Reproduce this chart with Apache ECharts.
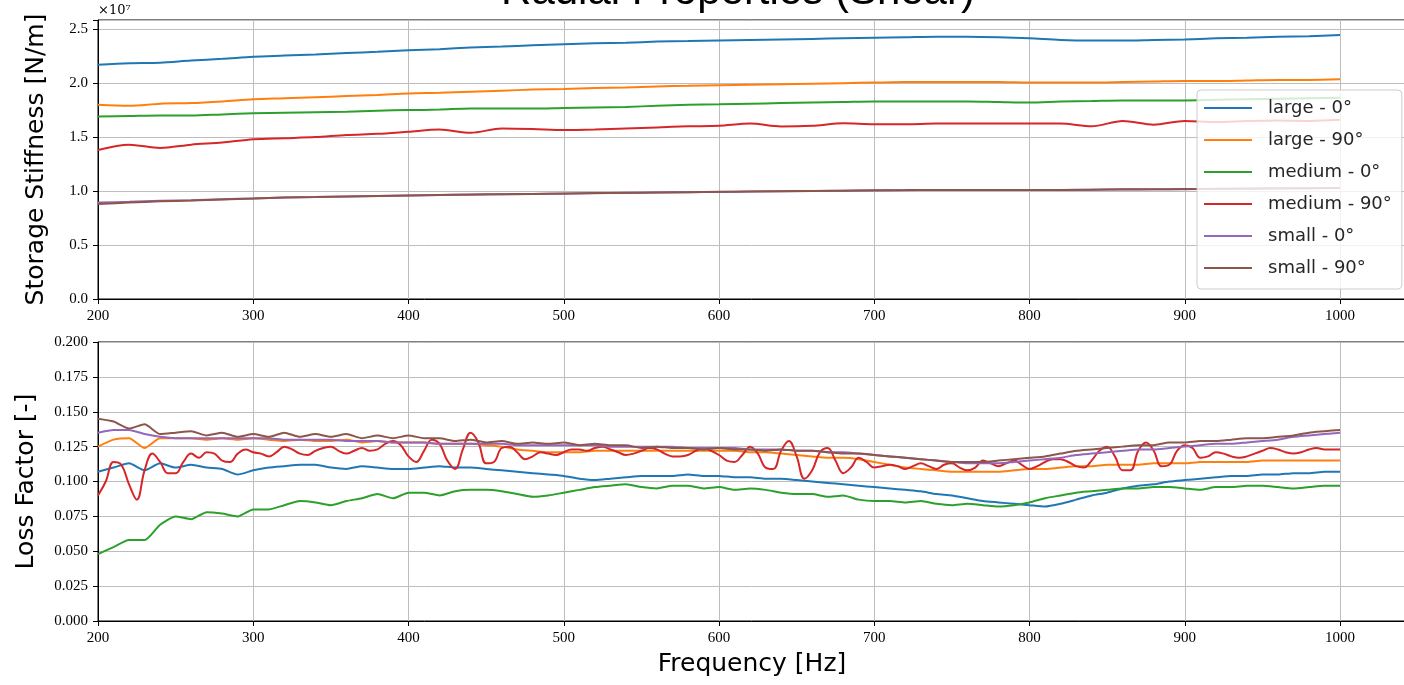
<!DOCTYPE html>
<html>
<head>
<meta charset="utf-8">
<title>Radial Properties (Shear)</title>
<script src="https://cdn.jsdelivr.net/npm/echarts@6/dist/echarts.min.js"></script>
<style>
    html, body { margin: 0; padding: 0; background: #fff; }
    #main { width: 1404px; height: 685px; }
</style>
</head>
<body>
<div id="main"></div>
<script>
// 频率采样点
const freqTop = [200, 220, 240, 260, 280, 300, 320, 340, 360, 380,
    400, 420, 440, 460, 480, 500, 520, 540, 560, 580,
    600, 620, 640, 660, 680, 700, 720, 740, 760, 780,
    800, 820, 840, 860, 880, 900, 920, 940, 960, 980, 1000];

const freqLoss = [200, 210, 220, 230, 240, 250, 260, 270, 280, 290,
    300, 310, 320, 330, 340, 350, 360, 370, 380, 390,
    400, 410, 420, 430, 440, 450, 460, 470, 480, 490,
    500, 510, 520, 530, 540, 550, 560, 570, 580, 590,
    600, 610, 620, 630, 640, 650, 660, 670, 680, 690,
    700, 710, 720, 730, 740, 750, 760, 770, 780, 790,
    800, 810, 820, 830, 840, 850, 860, 870, 880, 890,
    900, 910, 920, 930, 940, 950, 960, 970, 980, 990, 1000];

const freqFine = [200, 205, 210, 215, 220, 225, 230, 235, 240, 245,
    250, 255, 260, 265, 270, 275, 280, 285, 290, 295,
    300, 305, 310, 315, 320, 325, 330, 335, 340, 345,
    350, 355, 360, 365, 370, 375, 380, 385, 390, 395,
    400, 405, 410, 415, 420, 425, 430, 435, 440, 445,
    450, 455, 460, 465, 470, 475, 480, 485, 490, 495,
    500, 505, 510, 515, 520, 525, 530, 535, 540, 545,
    550, 555, 560, 565, 570, 575, 580, 585, 590, 595,
    600, 605, 610, 615, 620, 625, 630, 635, 640, 645,
    650, 655, 660, 665, 670, 675, 680, 685, 690, 695,
    700, 705, 710, 715, 720, 725, 730, 735, 740, 745,
    750, 755, 760, 765, 770, 775, 780, 785, 790, 795,
    800, 805, 810, 815, 820, 825, 830, 835, 840, 845,
    850, 855, 860, 865, 870, 875, 880, 885, 890, 895,
    900, 905, 910, 915, 920, 925, 930, 935, 940, 945,
    950, 955, 960, 965, 970, 975, 980, 985, 990, 995, 1000];

// 储能刚度 (单位 1e7 N/m)
const stiffLarge0 = [2.170, 2.185, 2.190, 2.210, 2.225, 2.245, 2.255, 2.265, 2.280, 2.290,
    2.305, 2.315, 2.330, 2.340, 2.350, 2.360, 2.370, 2.375, 2.385, 2.390,
    2.395, 2.400, 2.405, 2.410, 2.415, 2.420, 2.425, 2.430, 2.430, 2.425,
    2.415, 2.400, 2.395, 2.395, 2.400, 2.405, 2.415, 2.420, 2.430, 2.435, 2.445];
const stiffLarge90 = [1.800, 1.790, 1.810, 1.815, 1.830, 1.850, 1.860, 1.870, 1.880, 1.890,
    1.905, 1.910, 1.920, 1.930, 1.940, 1.945, 1.955, 1.960, 1.970, 1.975,
    1.980, 1.985, 1.990, 1.995, 2.000, 2.005, 2.010, 2.010, 2.010, 2.010,
    2.005, 2.005, 2.005, 2.010, 2.015, 2.020, 2.020, 2.025, 2.030, 2.030, 2.035];
const stiffMedium0 = [1.690, 1.695, 1.700, 1.700, 1.710, 1.720, 1.725, 1.730, 1.735, 1.745,
    1.750, 1.755, 1.765, 1.765, 1.765, 1.770, 1.775, 1.780, 1.790, 1.800,
    1.805, 1.810, 1.815, 1.820, 1.825, 1.830, 1.830, 1.830, 1.830, 1.825,
    1.820, 1.830, 1.835, 1.840, 1.840, 1.840, 1.845, 1.850, 1.855, 1.860, 1.865];
const stiffMedium90 = [1.380, 1.430, 1.400, 1.430, 1.450, 1.480, 1.490, 1.500, 1.520, 1.530,
    1.550, 1.570, 1.540, 1.580, 1.575, 1.565, 1.570, 1.580, 1.590, 1.600,
    1.605, 1.625, 1.598, 1.605, 1.628, 1.620, 1.620, 1.625, 1.625, 1.625,
    1.625, 1.625, 1.600, 1.650, 1.615, 1.650, 1.640, 1.650, 1.655, 1.650, 1.660];
const stiffSmall0 = [0.895, 0.900, 0.910, 0.915, 0.925, 0.932, 0.940, 0.945, 0.950, 0.955,
    0.960, 0.963, 0.967, 0.970, 0.973, 0.976, 0.980, 0.983, 0.986, 0.989,
    0.992, 0.995, 0.998, 1.000, 1.003, 1.006, 1.008, 1.010, 1.010, 1.010,
    1.010, 1.010, 1.012, 1.015, 1.016, 1.018, 1.020, 1.022, 1.024, 1.026, 1.028];
const stiffSmall90 = [0.880, 0.893, 0.905, 0.913, 0.923, 0.932, 0.940, 0.945, 0.950, 0.955,
    0.960, 0.964, 0.968, 0.971, 0.974, 0.977, 0.981, 0.984, 0.987, 0.990,
    0.993, 0.996, 0.999, 1.001, 1.004, 1.007, 1.009, 1.011, 1.011, 1.011,
    1.011, 1.011, 1.013, 1.016, 1.017, 1.019, 1.021, 1.023, 1.025, 1.027, 1.029];

// 损耗因子
const lossLarge0 = [0.107, 0.110, 0.113, 0.108, 0.113, 0.110, 0.112, 0.110, 0.109, 0.105,
    0.108, 0.110, 0.111, 0.112, 0.112, 0.110, 0.109, 0.111, 0.110, 0.109,
    0.109, 0.110, 0.111, 0.110, 0.110, 0.109, 0.108, 0.107, 0.106, 0.105,
    0.104, 0.102, 0.101, 0.102, 0.103, 0.104, 0.104, 0.104, 0.105, 0.104,
    0.104, 0.103, 0.103, 0.102, 0.102, 0.101, 0.100, 0.099, 0.098, 0.097,
    0.096, 0.095, 0.094, 0.093, 0.091, 0.090, 0.088, 0.086, 0.085, 0.084,
    0.083, 0.082, 0.084, 0.087, 0.090, 0.092, 0.095, 0.097, 0.098, 0.100,
    0.101, 0.102, 0.103, 0.104, 0.104, 0.105, 0.105, 0.106, 0.106, 0.107, 0.107];
const lossLarge90 = [0.125, 0.130, 0.131, 0.124, 0.131, 0.131, 0.131, 0.130, 0.131, 0.130,
    0.131, 0.130, 0.129, 0.130, 0.129, 0.129, 0.130, 0.128, 0.129, 0.128,
    0.128, 0.128, 0.127, 0.127, 0.127, 0.126, 0.125, 0.123, 0.122, 0.121,
    0.121, 0.121, 0.122, 0.122, 0.122, 0.122, 0.122, 0.122, 0.122, 0.122,
    0.122, 0.122, 0.121, 0.121, 0.120, 0.119, 0.118, 0.117, 0.117, 0.116,
    0.114, 0.112, 0.110, 0.109, 0.108, 0.107, 0.107, 0.107, 0.107, 0.108,
    0.109, 0.109, 0.110, 0.111, 0.111, 0.112, 0.112, 0.112, 0.113, 0.113,
    0.113, 0.114, 0.114, 0.114, 0.114, 0.115, 0.115, 0.115, 0.115, 0.115, 0.115];
const lossMedium0 = [0.048, 0.053, 0.058, 0.058, 0.069, 0.075, 0.073, 0.078, 0.077, 0.075,
    0.080, 0.080, 0.083, 0.086, 0.085, 0.083, 0.086, 0.088, 0.091, 0.088,
    0.092, 0.092, 0.090, 0.093, 0.094, 0.094, 0.093, 0.091, 0.089, 0.090,
    0.092, 0.094, 0.096, 0.097, 0.098, 0.096, 0.095, 0.097, 0.097, 0.095,
    0.096, 0.094, 0.095, 0.094, 0.092, 0.091, 0.091, 0.089, 0.090, 0.087,
    0.086, 0.086, 0.085, 0.086, 0.084, 0.083, 0.084, 0.083, 0.082, 0.083,
    0.085, 0.088, 0.090, 0.092, 0.093, 0.094, 0.095, 0.095, 0.096, 0.096,
    0.095, 0.094, 0.096, 0.096, 0.097, 0.097, 0.096, 0.095, 0.096, 0.097, 0.097];
// medium - 90° 波动较大, 用 5 Hz 采样
const lossMedium90 = [0.090, 0.100, 0.114, 0.112, 0.098, 0.087, 0.108, 0.120, 0.114, 0.106,
    0.106, 0.114, 0.120, 0.117, 0.121, 0.120, 0.115, 0.114, 0.120, 0.123,
    0.121, 0.120, 0.118, 0.121, 0.125, 0.123, 0.120, 0.119, 0.122, 0.124,
    0.125, 0.122, 0.120, 0.122, 0.124, 0.122, 0.123, 0.127, 0.129, 0.126,
    0.118, 0.114, 0.122, 0.130, 0.127, 0.115, 0.109, 0.123, 0.135, 0.128,
    0.113, 0.114, 0.124, 0.125, 0.121, 0.116, 0.118, 0.121, 0.120, 0.119,
    0.121, 0.123, 0.123, 0.122, 0.124, 0.125, 0.123, 0.121, 0.119, 0.120,
    0.122, 0.124, 0.123, 0.120, 0.118, 0.118, 0.119, 0.122, 0.124, 0.122,
    0.119, 0.115, 0.114, 0.119, 0.125, 0.120, 0.110, 0.109, 0.122, 0.129,
    0.118, 0.102, 0.108, 0.121, 0.124, 0.115, 0.106, 0.110, 0.117, 0.114,
    0.110, 0.111, 0.112, 0.111, 0.109, 0.111, 0.113, 0.111, 0.109, 0.112,
    0.113, 0.110, 0.108, 0.110, 0.115, 0.113, 0.111, 0.113, 0.115, 0.112,
    0.109, 0.111, 0.114, 0.116, 0.116, 0.114, 0.111, 0.110, 0.115, 0.122,
    0.125, 0.118, 0.108, 0.108, 0.122, 0.128, 0.122, 0.111, 0.112, 0.122,
    0.126, 0.124, 0.117, 0.118, 0.121, 0.120, 0.118, 0.117, 0.118, 0.120,
    0.122, 0.124, 0.123, 0.121, 0.120, 0.121, 0.123, 0.124, 0.123, 0.123, 0.123];
const lossSmall0 = [0.135, 0.137, 0.137, 0.134, 0.132, 0.131, 0.131, 0.131, 0.131, 0.131,
    0.131, 0.131, 0.130, 0.130, 0.130, 0.130, 0.129, 0.129, 0.129, 0.128,
    0.128, 0.128, 0.127, 0.127, 0.127, 0.127, 0.127, 0.126, 0.126, 0.126,
    0.126, 0.126, 0.126, 0.125, 0.125, 0.125, 0.125, 0.125, 0.124, 0.124,
    0.124, 0.124, 0.123, 0.123, 0.123, 0.122, 0.122, 0.121, 0.121, 0.120,
    0.119, 0.118, 0.117, 0.116, 0.115, 0.114, 0.113, 0.113, 0.113, 0.114,
    0.115, 0.116, 0.117, 0.119, 0.120, 0.121, 0.122, 0.123, 0.123, 0.124,
    0.125, 0.126, 0.127, 0.127, 0.128, 0.129, 0.130, 0.132, 0.133, 0.134, 0.135];
const lossSmall90 = [0.145, 0.143, 0.138, 0.141, 0.134, 0.135, 0.136, 0.133, 0.135, 0.132,
    0.134, 0.132, 0.135, 0.132, 0.134, 0.132, 0.134, 0.131, 0.133, 0.131,
    0.133, 0.131, 0.131, 0.129, 0.130, 0.128, 0.129, 0.127, 0.128, 0.127,
    0.128, 0.126, 0.127, 0.126, 0.126, 0.124, 0.125, 0.124, 0.124, 0.123,
    0.124, 0.123, 0.123, 0.122, 0.123, 0.122, 0.122, 0.121, 0.120, 0.120,
    0.119, 0.118, 0.117, 0.116, 0.115, 0.114, 0.114, 0.114, 0.115, 0.116,
    0.117, 0.118, 0.120, 0.122, 0.123, 0.124, 0.125, 0.126, 0.126, 0.128,
    0.128, 0.129, 0.129, 0.130, 0.131, 0.131, 0.132, 0.133, 0.135, 0.136, 0.137];

const seriesNames = ['large - 0°', 'large - 90°', 'medium - 0°', 'medium - 90°', 'small - 0°', 'small - 90°'];
const colors = ['#1f77b4', '#ff7f0e', '#2ca02c', '#d62728', '#9467bd', '#8c564b'];

const stiffData = [stiffLarge0, stiffLarge90, stiffMedium0, stiffMedium90, stiffSmall0, stiffSmall90];
const lossData = [lossLarge0, lossLarge90, lossMedium0, lossMedium90, lossSmall0, lossSmall90];
const lossFreq = [freqLoss, freqLoss, freqLoss, freqFine, freqLoss, freqLoss];

function pairs(xs, ys) {
    return xs.map((x, i) => [x, ys[i]]);
}

var myChart = echarts.init(document.getElementById('main'));

const tickFont = { fontFamily: 'Liberation Serif', fontSize: 15, color: '#000' };
const nameFont = { fontFamily: 'DejaVu Sans', fontSize: 25, color: '#000' };
const gridLine = { show: true, lineStyle: { color: '#bdbdbd', width: 1 } };
const blackLine = { show: true, lineStyle: { color: '#000', width: 1 } };
const blackTick = { show: true, length: 5, lineStyle: { color: '#000' } };

// 只在整刻度处显示标签
function onStep(v, step) {
    return Math.abs(v / step - Math.round(v / step)) < 1e-6;
}

function xAxisCfg(gridIndex, name) {
    return {
        type: 'value', gridIndex: gridIndex,
        min: 200, max: 1042.5, interval: 100,
        name: name, nameLocation: 'middle', nameGap: 31, nameTextStyle: nameFont,
        axisLine: blackLine, axisTick: blackTick, splitLine: gridLine,
        axisLabel: Object.assign({ margin: 10, formatter: v => onStep(v, 100) ? String(v) : '' }, tickFont)
    };
}

const series = [];
seriesNames.forEach((name, i) => {
    series.push({
        name: name, type: 'line', xAxisIndex: 0, yAxisIndex: 0,
        data: pairs(freqTop, stiffData[i]),
        symbol: 'none', smooth: 0.3,
        lineStyle: { color: colors[i], width: 2 },
        itemStyle: { color: colors[i] }
    });
});
seriesNames.forEach((name, i) => {
    series.push({
        name: name, type: 'line', xAxisIndex: 1, yAxisIndex: 1,
        data: pairs(lossFreq[i], lossData[i]),
        symbol: 'none', smooth: i === 3 ? 0.4 : 0.2,
        lineStyle: { color: colors[i], width: 2 },
        itemStyle: { color: colors[i] }
    });
});

const option = {
    animation: false,
    backgroundColor: '#fff',
    grid: [
        { left: 98, right: -2, top: 20, height: 279, show: true, borderColor: '#000', borderWidth: 1, outerBoundsMode: 'none' },
        { left: 98, right: -2, top: 342, height: 279, show: true, borderColor: '#000', borderWidth: 1, outerBoundsMode: 'none' }
    ],
    xAxis: [xAxisCfg(0, ''), xAxisCfg(1, 'Frequency [Hz]')],
    yAxis: [
        {
            type: 'value', gridIndex: 0, min: 0, max: 2.585, interval: 0.5,
            name: 'Storage Stiffness [N/m]', nameLocation: 'middle', nameGap: 49, nameRotate: 90,
            nameTextStyle: nameFont,
            axisLine: blackLine, axisTick: blackTick, splitLine: gridLine,
            axisLabel: Object.assign({ margin: 10, formatter: v => onStep(v, 0.5) ? v.toFixed(1) : '' }, tickFont)
        },
        {
            type: 'value', gridIndex: 1, min: 0, max: 0.2, interval: 0.025,
            name: 'Loss Factor [-]', nameLocation: 'middle', nameGap: 59, nameRotate: 90,
            nameTextStyle: nameFont,
            axisLine: blackLine, axisTick: blackTick, splitLine: gridLine,
            axisLabel: Object.assign({ margin: 10, formatter: v => v.toFixed(3) }, tickFont)
        }
    ],
    legend: {
        data: seriesNames,
        orient: 'vertical',
        left: 1197, top: 90,
        itemWidth: 48, itemHeight: 20, itemGap: 14,
        padding: [9, 10, 12, 6],
        itemStyle: { opacity: 0 },
        lineStyle: { width: 2 },
        backgroundColor: 'rgba(255,255,255,0.8)',
        borderColor: '#cccccc', borderWidth: 1, borderRadius: 4,
        textStyle: { fontFamily: 'DejaVu Sans', fontSize: 18, color: '#262626', padding: [0, 0, 0, 11] }
    },
    graphic: [
        {
            type: 'text', x: 738, y: -8,
            style: {
                text: 'Radial Properties (Shear)',
                font: '42px "Liberation Sans"', fill: '#000',
                align: 'center', verticalAlign: 'middle',
                textAlign: 'center', textVerticalAlign: 'middle'
            }
        },
        {
            type: 'text', x: 98, y: 11,
            style: {
                text: '×10⁷',
                font: '13px "DejaVu Serif"', fill: '#000',
                align: 'left', verticalAlign: 'middle',
                textAlign: 'left', textVerticalAlign: 'middle'
            }
        }
    ],
    series: series
};

myChart.setOption(option);
window.addEventListener('resize', myChart.resize);
</script>
</body>
</html>
